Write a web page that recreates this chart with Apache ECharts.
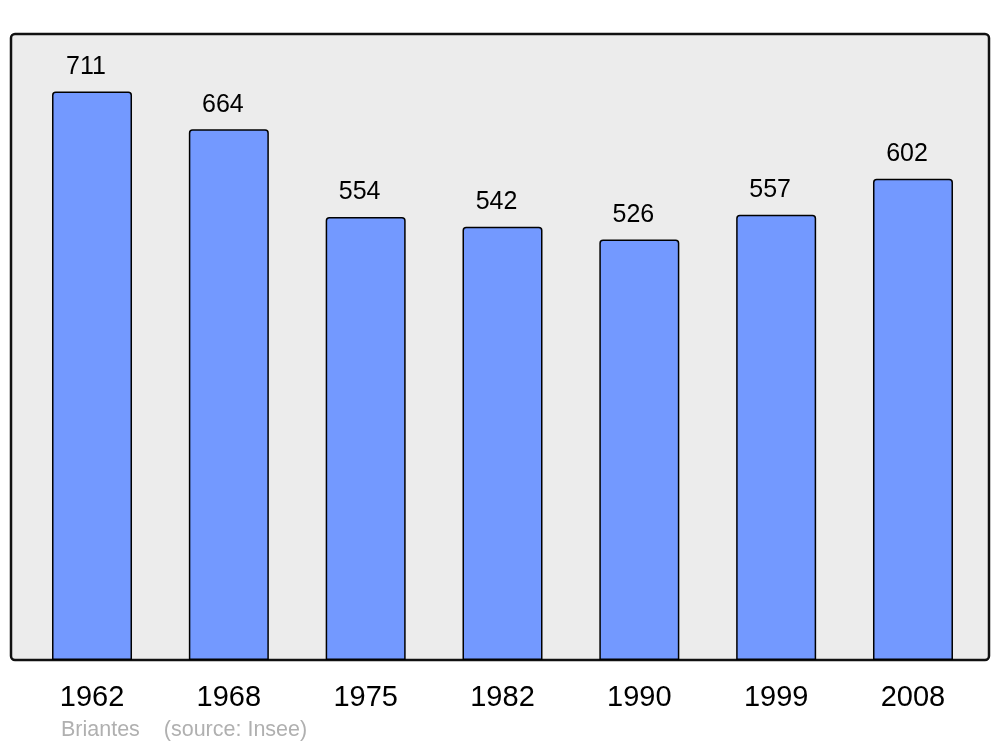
<!DOCTYPE html>
<html><head><meta charset="utf-8">
<script src="https://cdn.jsdelivr.net/npm/echarts@6/dist/echarts.min.js"></script>
<style>html,body{margin:0;padding:0;background:#fff}#c{width:1000px;height:747px}</style>
</head><body><div id="c"></div>
<script>
const years = ['1962','1968','1975','1982','1990','1999','2008'];
const population = [711, 664, 554, 542, 526, 557, 602];
const caption = 'Briantes    (source: Insee)';

const chart = echarts.init(document.getElementById('c'), null, {renderer: 'canvas'});
chart.setOption({
  animation: false,
  backgroundColor: '#ffffff',
  textStyle: {fontFamily: 'Liberation Sans, Arial, sans-serif'},
  graphic: [
    {type: 'rect', z: 0, shape: {x: 11, y: 34, width: 978, height: 626, r: 4},
     style: {fill: '#ececec', stroke: '#111', lineWidth: 2.5}},
    {type: 'text', z: 10, left: 61, top: 719,
     style: {text: caption, fill: '#b0b0b0', font: '21.5px "Liberation Sans", Arial, sans-serif'}}
  ],
  grid: {left: 23.6, right: 18.6, top: 34, bottom: 87, containLabel: false},
  xAxis: {
    type: 'category', data: years,
    axisLine: {show: false}, axisTick: {show: false},
    axisLabel: {color: '#000', fontSize: 29, margin: 23, fontFamily: 'Liberation Sans'}
  },
  yAxis: {
    type: 'value', min: 0, max: 783,
    show: false, splitLine: {show: false}
  },
  series: [{
    type: 'bar', data: population, barWidth: 80, z: 5,
    itemStyle: {color: '#7399ff', borderColor: '#000', borderWidth: 1.5, borderRadius: [3,3,0,0]},
    label: {show: true, position: 'top', distance: 12, offset: [-6, 0], color: '#000', fontSize: 25, fontFamily: 'Liberation Sans'}
  }]
});
</script></body></html>
